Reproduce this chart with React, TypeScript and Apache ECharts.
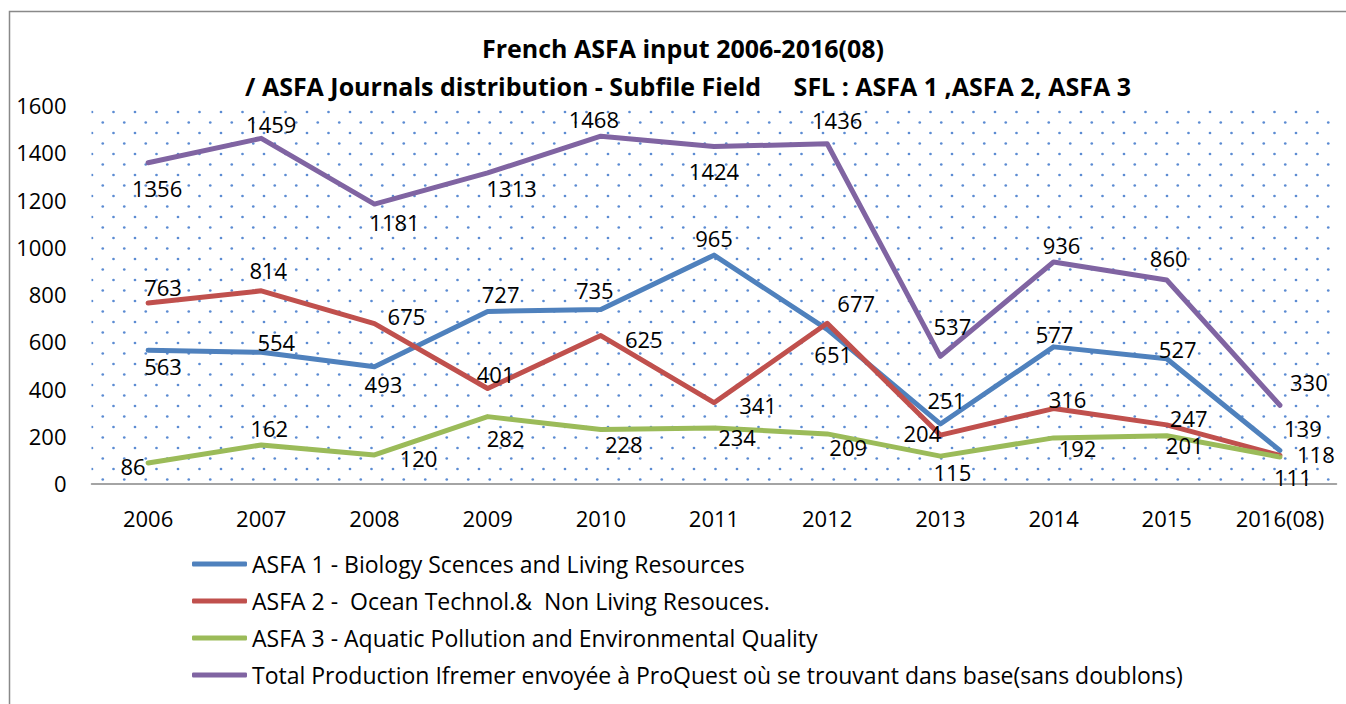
import React, { useEffect, useRef } from 'react';
import * as echarts from 'echarts';

const categories = ['2006', '2007', '2008', '2009', '2010', '2011', '2012', '2013', '2014', '2015', '2016(08)'];
const asfa1 = [563, 554, 493, 727, 735, 965, 651, 251, 577, 527, 139];
const asfa2 = [763, 814, 675, 401, 625, 341, 677, 204, 316, 247, 118];
const asfa3 = [86, 162, 120, 282, 228, 234, 209, 115, 192, 201, 111];
const total = [1356, 1459, 1181, 1313, 1468, 1424, 1436, 537, 936, 860, 330];
const seriesNames = [
  'ASFA 1 - Biology Scences and Living Resources',
  'ASFA 2 -  Ocean Technol.&  Non Living Resouces.',
  'ASFA 3 - Aquatic Pollution and Environmental Quality',
  'Total Production Ifremer envoyée à ProQuest où se trouvant dans base(sans doublons)',
];
const titleLines = [
  'French ASFA input 2006-2016(08)',
  '/ ASFA Journals distribution - Subfile Field     SFL : ASFA 1 ,ASFA 2, ASFA 3',
];
const yMin = 0;
const yMax = 1600;
const yInterval = 200;

// label placement (styling): offset of label centre from point
const off1 = [[15, 16], [15, -10], [9, 17], [13, -17], [-6, -20], [0, -17], [6, 25], [6, -24], [1, -13], [11, -10], [23, -22]];
const off2 = [[15, -16], [7, -21], [32, -8], [8, -14], [43, 3], [44, 2], [29, -20], [-18, -2], [14, -10], [22, -7], [36, -1]];
const off3 = [[-15, 3], [8, -17], [44, 3], [18, 21], [23, 15], [23, 9], [21, 13], [12, 16], [24, 10], [18, 9], [13, 20]];
const offT = [[9, 25], [10, -14], [20, 18], [24, 15], [-7, -17], [0, 24], [10, -24], [12, -30], [8, -17], [2, -22], [29, -23]];

const colors = ['#4F81BD', '#C0504D', '#9BBB59', '#8064A2'];
const FONT = "'Open Sans', 'Noto Sans', sans-serif";

function makeDots(): HTMLCanvasElement {
  const c = document.createElement('canvas');
  c.width = 43;
  c.height = 21;
  const ctx = c.getContext('2d')!;
  ctx.fillStyle = '#5b8bd2';
  const pts = [[6, 7], [27.5, 7], [16.75, 17.5], [38.25, 17.5]];
  for (const [x, y] of pts) {
    ctx.beginPath();
    ctx.arc(x, y, 1.35, 0, Math.PI * 2);
    ctx.fill();
  }
  return c;
}

export default function App() {
  const ref = useRef<HTMLDivElement>(null);
  useEffect(() => {
    if (!ref.current) return;
    const chart = echarts.init(ref.current, null, { renderer: 'svg' });
    const dots = makeDots();
    const mk = (name: string, data: number[], offs: number[][], color: string) => ({
      name,
      type: 'line',
      data: data.map((v, i) => ({ value: v, label: { offset: offs[i] } })),
      symbol: 'circle',
      symbolSize: 1,
      showSymbol: true,
      itemStyle: { color },
      lineStyle: { color, width: 5, cap: 'round', join: 'round' },
      label: {
        show: true,
        position: 'inside',
        fontSize: 22,
        lineHeight: 18,
        fontFamily: FONT,
        color: '#000',
      },
      emphasis: { disabled: true },
      silent: true,
    });
    chart.setOption({
      animation: false,
      backgroundColor: '#fff',
      graphic: [
        {
          type: 'rect',
          shape: { x: 9.5, y: 11.5, width: 1400, height: 720 },
          style: { fill: 'none', stroke: '#898989', lineWidth: 1.5 },
          silent: true,
        },
        {
          type: 'text',
          x: 683,
          y: 48,
          style: {
            text: titleLines[0],
            textAlign: 'center',
            textVerticalAlign: 'middle',
            fontSize: 25,
            fontWeight: 'bold',
            fontFamily: FONT,
            fill: '#000',
          },
        },
        {
          type: 'text',
          x: 688,
          y: 86,
          style: {
            text: titleLines[1],
            textAlign: 'center',
            textVerticalAlign: 'middle',
            fontSize: 25,
            fontWeight: 'bold',
            fontFamily: FONT,
            fill: '#000',
          },
        },
      ],
      grid: {
        left: 91.5,
        right: 9.5,
        top: 105,
        bottom: 704 - 483.3,
        show: true,
        borderWidth: 0,
        backgroundColor: { image: dots, repeat: 'repeat', imageWidth: 43, imageHeight: 21 },
      },
      legend: {
        orient: 'vertical',
        left: 187,
        top: 546,
        itemWidth: 55,
        itemHeight: 5,
        itemGap: 11,
        icon: 'roundRect',
        data: seriesNames,
        textStyle: { fontSize: 23, fontFamily: FONT, color: '#000', lineHeight: 26 },
      },
      xAxis: {
        type: 'category',
        data: categories,
        boundaryGap: true,
        axisLine: { show: true, lineStyle: { color: '#868686', width: 1.5 } },
        axisTick: { show: false },
        axisLabel: { fontSize: 22, fontFamily: FONT, color: '#000', margin: 24, interval: 0 },
        splitLine: { show: false },
      },
      yAxis: {
        type: 'value',
        min: yMin,
        max: yMax,
        interval: yInterval,
        axisLine: { show: false },
        axisTick: { show: false },
        splitLine: { show: false },
        axisLabel: {
          fontSize: 22,
          fontFamily: FONT,
          color: '#000',
          margin: 25,
          formatter: (v: number) => String(v),
        },
      },
      series: [
        mk(seriesNames[0], asfa1, off1, colors[0]),
        mk(seriesNames[1], asfa2, off2, colors[1]),
        mk(seriesNames[2], asfa3, off3, colors[2]),
        mk(seriesNames[3], total, offT, colors[3]),
      ],
    });
    return () => chart.dispose();
  }, []);
  return <div ref={ref} style={{ position: 'absolute', left: 0, top: 0, width: 1346, height: 704 }} />;
}
